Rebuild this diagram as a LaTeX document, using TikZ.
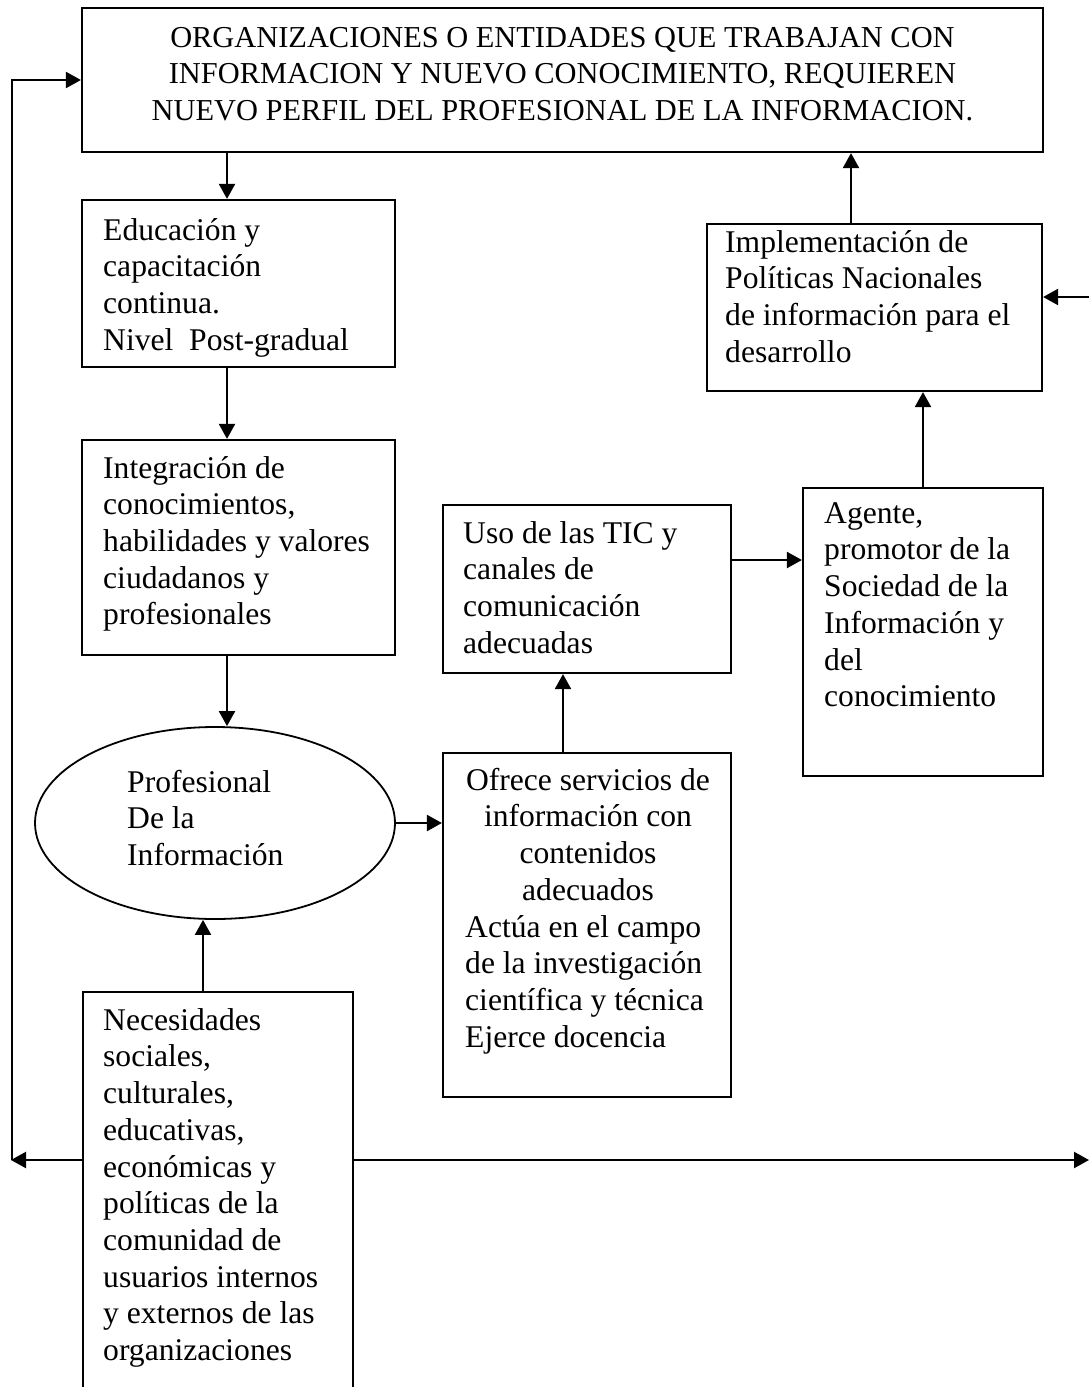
\documentclass[tikz,border=0pt]{standalone}
\usepackage{fontspec}
\setmainfont{Liberation Serif}
\usetikzlibrary{arrows.meta,shapes.geometric}
\begin{document}
\begin{tikzpicture}[x=1pt,y=-1pt,
  box/.style={draw,line width=2.2pt,inner sep=0pt,rectangle},
  oval/.style={draw,line width=1.8pt,inner sep=0pt,ellipse},
  txt/.style={inner sep=0pt,font=\fontsize{31.6}{36.7}\selectfont,align=left,anchor=north west},
  ctxt/.style={inner sep=0pt,font=\fontsize{31.6}{36.7}\selectfont,align=center,anchor=north},
  arr/.style={line width=2.2pt,-{Triangle[length=15pt,width=16pt]}}]
\useasboundingbox (0,0) rectangle (1089,1387);
\fill[white] (0,0) rectangle (1089,1387);
% boxes
\node[box,minimum width=961pt,minimum height=144pt] (top) at (562.5,80) {};
\node[box,minimum width=313pt,minimum height=167pt] (edu) at (238.5,283.5) {};
\node[box,minimum width=313pt,minimum height=215pt] (integ) at (238.5,547.5) {};
\node[oval,minimum width=360pt,minimum height=192pt] (prof) at (215,823) {};
\node[box,minimum width=288pt,minimum height=344pt] (ofrece) at (587,925) {};
\node[box,minimum width=288pt,minimum height=168pt] (uso) at (587,589) {};
\node[box,minimum width=240pt,minimum height=288pt] (agente) at (923,632) {};
\node[box,minimum width=335pt,minimum height=167pt] (impl) at (874.5,307.5) {};
\node[box,minimum width=270pt,minimum height=428pt] (nec) at (218,1206) {};
% texts
\node[ctxt,font=\fontsize{30.4}{36.7}\selectfont] (ttop) at (562.5,21.3) {\strut ORGANIZACIONES O ENTIDADES QUE TRABAJAN CON\\INFORMACION Y NUEVO CONOCIMIENTO, REQUIEREN\\NUEVO PERFIL DEL PROFESIONAL DE LA INFORMACION.};
\node[txt] (tedu) at (103,214.3) {\strut Educación y\\capacitación\\continua.\\Nivel\ \ Post-gradual};
\node[txt] (tinteg) at (103,452.3) {\strut Integración de\\conocimientos,\\habilidades y valores\\ciudadanos y\\profesionales};
\node[txt] (tprof) at (127,766.3) {\strut Profesional\\De la\\Información};
\node[ctxt] (tofb) at (588,764.3) {\strut Ofrece servicios de\\información con\\contenidos\\adecuados};
\node[txt] (tofc) at (465,911.3) {\strut Actúa en el campo\\de la investigación\\científica y técnica\\Ejerce docencia};
\node[txt] (tuso) at (463,517.3) {\strut Uso de las TIC y\\canales de\\comunicación\\adecuadas};
\node[txt] (tage) at (824,497.3) {\strut Agente,\\promotor de la\\Sociedad de la\\Información y\\del\\conocimiento};
\node[txt] (timpl) at (725,226.3) {\strut Implementación de\\Políticas Nacionales\\de información para el\\desarrollo};
\node[txt] (tnec) at (103,1004.3) {\strut Necesidades\\sociales,\\culturales,\\educativas,\\económicas y\\políticas de la\\comunidad de\\usuarios internos\\y externos de las\\organizaciones};
% helper coordinates
\coordinate (xa) at (227,0);
\coordinate (xb) at (563,0);
\coordinate (yc) at (0,560);
\coordinate (xd) at (851,0);
\coordinate (xe) at (203,0);
\coordinate (rin) at (1089,297);
\coordinate (lout) at (11,1160);
\coordinate (rout) at (1089,1160);
\coordinate (lcorner) at (12,1160);
\coordinate (ltop) at (12,80);
% connectors
\draw[arr] (top.south -| xa) -- (edu.north -| xa);
\draw[arr] (edu.south -| xa) -- (integ.north -| xa);
\draw[arr] (integ.south -| xa) -- (prof.north -| xa);
\draw[arr] (prof.east) -- (prof.east -| ofrece.west);
\draw[arr] (ofrece.north -| xb) -- (uso.south -| xb);
\draw[arr] (uso.east |- yc) -- (agente.west |- yc);
\draw[arr] (agente.north) -- (agente.north |- impl.south);
\draw[arr] (impl.north -| xd) -- (top.south -| xd);
\draw[arr] (rin) -- (impl.east |- rin);
\draw[arr] (nec.north -| xe) -- (prof.south -| xe);
\draw[arr] (nec.west |- lout) -- (lout);
\draw[arr] (nec.east |- rout) -- (rout);
\draw[arr] (lcorner) -- (ltop) -- (top.west |- ltop);
\end{tikzpicture}
\end{document}
